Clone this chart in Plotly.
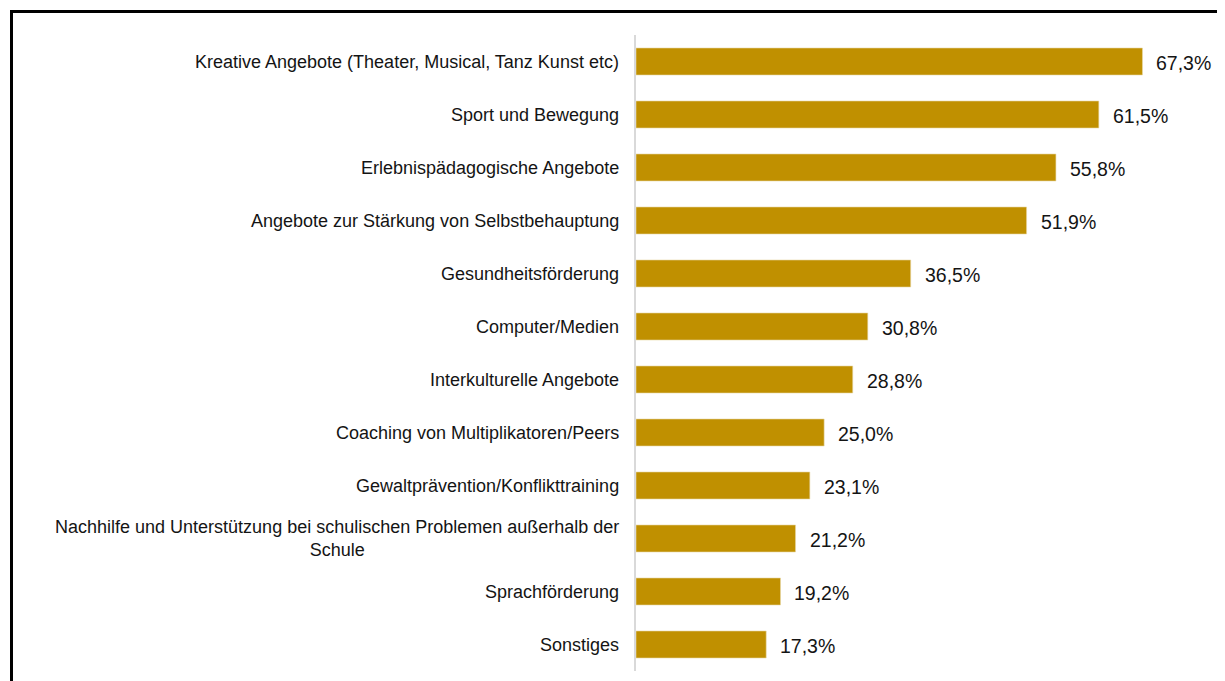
import plotly.graph_objects as go

categories = [
    "Kreative Angebote (Theater, Musical, Tanz Kunst etc)",
    "Sport und Bewegung",
    "Erlebnispädagogische Angebote",
    "Angebote zur Stärkung von Selbstbehauptung",
    "Gesundheitsförderung",
    "Computer/Medien",
    "Interkulturelle Angebote",
    "Coaching von Multiplikatoren/Peers",
    "Gewaltprävention/Konflikttraining",
    "Nachhilfe und Unterstützung bei schulischen Problemen außerhalb der<br>Schule",
    "Sprachförderung",
    "Sonstiges",
]
values = [67.3, 61.5, 55.8, 51.9, 36.5, 30.8, 28.8, 25.0, 23.1, 21.2, 19.2, 17.3]
value_labels = [f"{v:.1f}%".replace(".", ",") for v in values]

# page body has an 8px default margin; compensate so the plot lands in place
OFF = 8
W, H = 1225, 681
ML, MR, MT, MB = 636 - OFF, 2 + OFF, 35 - OFF, 10 + OFF
PW, PH = W - ML - MR, H - MT - MB
FONT = "Liberation Sans, Arial, sans-serif"
BAR = "#C09000"
TXT = "#141414"

fig = go.Figure(go.Bar(
    x=values, y=categories, orientation="h",
    marker=dict(color=BAR, line=dict(color="#e8d9a8", width=0.6)),
    hoverinfo="skip",
))

annotations = []
for c in categories:
    annotations.append(dict(
        x=0, y=c, xref="x", yref="y", text=c, showarrow=False,
        xanchor="right", yanchor="middle", align="center", xshift=-15,
        font=dict(family=FONT, size=18, color=TXT),
    ))
for c, v, t in zip(categories, values, value_labels):
    annotations.append(dict(
        x=v, y=c, xref="x", yref="y", text=t, showarrow=False,
        xanchor="left", yanchor="middle", xshift=12, yshift=-1,
        font=dict(family=FONT, size=19.5, color=TXT),
    ))

def px_to_paper_x(px):
    return (px - OFF - ML) / PW

def px_to_paper_y(py):
    return (H - MB - (py - OFF)) / PH

frame_x0, frame_y0 = px_to_paper_x(11.5), px_to_paper_y(11.5)
frame_x1, frame_y1 = px_to_paper_x(1250), px_to_paper_y(720)

fig.update_layout(
    width=W, height=H,
    margin=dict(l=ML, r=MR, t=MT, b=MB),
    paper_bgcolor="white", plot_bgcolor="white",
    showlegend=False,
    bargap=0.49,
    font=dict(family=FONT, color=TXT),
    xaxis=dict(range=[0, 78], visible=False, showgrid=False, zeroline=False),
    yaxis=dict(
        categoryorder="array", categoryarray=categories, autorange="reversed",
        showticklabels=False, ticks="", showgrid=False, zeroline=False,
        showline=True, linecolor="#d9d9d9", linewidth=2,
    ),
    annotations=annotations,
    shapes=[dict(
        type="rect", xref="paper", yref="paper",
        x0=frame_x0, y0=frame_y1, x1=frame_x1, y1=frame_y0,
        line=dict(color="black", width=3), fillcolor="rgba(0,0,0,0)",
        layer="above",
    )],
)

fig.write_html("out.html")
